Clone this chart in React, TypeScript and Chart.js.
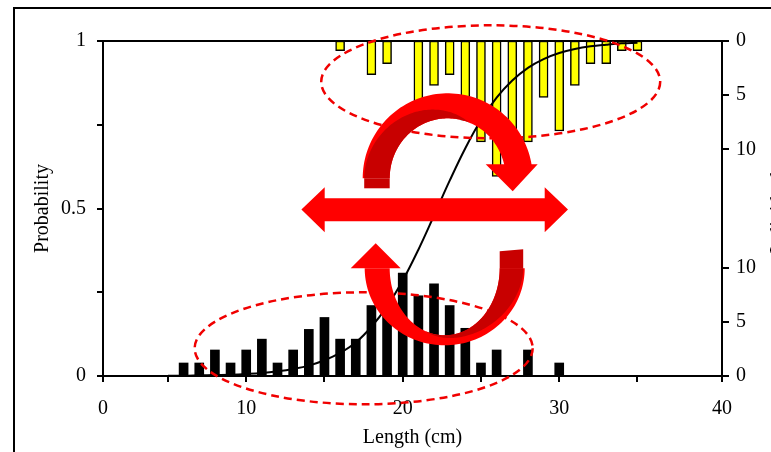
import React, { useEffect, useRef } from "react";
import { Chart, registerables } from "chart.js";

Chart.register(...registerables);

// ---------- data ----------
const blackLengths = [6, 7, 8, 9, 10, 11, 12, 13, 14, 15, 16, 17, 18, 19, 20, 21, 22, 23, 24, 25, 26, 28, 30];
const blackCounts = [1.2, 1.2, 2.4, 1.2, 2.4, 3.4, 1.2, 2.4, 4.3, 5.4, 3.4, 3.4, 6.5, 6.5, 9.5, 7.4, 8.5, 6.5, 4.4, 1.2, 2.4, 2.4, 1.2];

const yellowLengths = [16, 18, 19, 21, 22, 23, 24, 25, 26, 27, 28, 29, 30, 31, 32, 33, 34, 35];
const yellowCounts = [0.9, 3.1, 2.1, 6.0, 4.1, 3.1, 7.3, 9.3, 12.5, 10.0, 9.3, 5.2, 8.3, 4.1, 2.1, 2.1, 0.9, 0.9];

const curveLengths = [5, 6, 7, 8, 9, 10, 11, 12, 13, 14, 15, 16, 17, 18, 19, 20, 21, 22, 23, 24, 25, 26, 27, 28, 29, 30, 31, 32, 33, 34, 35];
const curveProbability = [0.001, 0.001, 0.002, 0.003, 0.004, 0.006, 0.009, 0.014, 0.021, 0.031, 0.047, 0.069, 0.1, 0.147, 0.208, 0.285, 0.377, 0.479, 0.583, 0.68, 0.764, 0.831, 0.882, 0.92, 0.946, 0.964, 0.976, 0.984, 0.989, 0.993, 0.995];

const lengthMin = 0.85;
const lengthMax = 40.4;
const lengthTickValues = [5, 10, 15, 20, 25, 30, 35];
const lengthLabelled = [10, 20, 30];
const lengthEndLabels = ["0", "40"];

const probTickValues = [0, 0.25, 0.5, 0.75, 1];
const probTickLabels = ["0", "", "0.5", "", "1"];

const countAxisMax = 30.9;
const countTickValues = [0, 5, 10];

const FONT = '"Liberation Serif", "Times New Roman", serif';

// ---------- decorations ----------
function drawDecor(chart: any) {
  const ctx = chart.ctx as CanvasRenderingContext2D;
  const ca = chart.chartArea;
  const sx = ca.width / 619;
  const sy = ca.height / 335;
  const M = (x: number, y: number): [number, number] => [ca.left + (x - 103.3) * sx, ca.top + (y - 40.7) * sy];

  ctx.save();
  // outer frame
  ctx.strokeStyle = "#000";
  ctx.lineWidth = 2;
  ctx.setLineDash([]);
  ctx.beginPath();
  ctx.moveTo(14, 470);
  ctx.lineTo(14, 8);
  ctx.lineTo(790, 8);
  ctx.stroke();

  // top axis line
  ctx.beginPath();
  ctx.moveTo(ca.left, ca.top);
  ctx.lineTo(ca.right, ca.top);
  ctx.stroke();

  // right axis title (cut by the picture edge)
  ctx.save();
  ctx.fillStyle = "#000";
  ctx.font = "20px " + FONT;
  ctx.textAlign = "center";
  ctx.textBaseline = "alphabetic";
  ctx.translate(784, (ca.top + ca.bottom) / 2);
  ctx.rotate(-Math.PI / 2);
  ctx.fillText("Individuals", 0, 0);
  ctx.restore();

  // dashed ellipses
  ctx.strokeStyle = "#f00000";
  ctx.lineWidth = 2.5;
  ctx.setLineDash([8, 5]);
  const ell = (cx: number, cy: number, rx: number, ry: number) => {
    const [x, y] = M(cx, cy);
    ctx.beginPath();
    ctx.ellipse(x, y, rx * sx, ry * sy, 0, 0, Math.PI * 2);
    ctx.stroke();
  };
  ell(491, 81.5, 169.5, 56.5);
  ell(364, 348, 169, 56);
  ctx.setLineDash([]);

  const poly = (pts: [number, number][], color: string) => {
    ctx.fillStyle = color;
    ctx.beginPath();
    pts.forEach((p, i) => {
      const [x, y] = M(p[0], p[1]);
      if (i === 0) ctx.moveTo(x, y);
      else ctx.lineTo(x, y);
    });
    ctx.closePath();
    ctx.fill();
  };
  const ribbon = (
    cx: number, cy: number, orx: number, ory: number, irx: number, iry: number,
    a0: number, a1: number, color: string, taper: boolean
  ) => {
    const N = 80;
    const pts: [number, number][] = [];
    for (let i = 0; i <= N; i++) {
      const f = i / N;
      const t = a0 + (a1 - a0) * f;
      let rx = orx, ry = ory;
      if (taper) {
        const g = Math.pow(f, 1.6);
        rx = orx + (irx - orx) * g;
        ry = ory + (iry - ory) * g;
      }
      pts.push([cx + rx * Math.cos(t), cy + ry * Math.sin(t)]);
    }
    for (let i = N; i >= 0; i--) {
      const t = a0 + (a1 - a0) * (i / N);
      pts.push([cx + irx * Math.cos(t), cy + iry * Math.sin(t)]);
    }
    poly(pts, color);
  };

  const RED = "#ff0000";
  const DARK = "#c80000";

  // top curved arrow (clockwise)
  ribbon(448, 178, 85, 85, 58, 60, Math.PI, Math.PI * 2 - 0.12, RED, false);
  poly([[364.5, 178], [390, 178], [390, 188], [364.5, 188]], DARK);
  ribbon(448, 178, 83.5, 83.5, 58, 60, Math.PI, Math.PI * 1.62, DARK, true);
  poly([[486, 164], [538, 164], [513, 191]], RED);

  // horizontal double arrow
  poly([
    [301.7, 209.3], [325, 187], [325, 198], [545, 198], [545, 187], [568.3, 209.3],
    [545, 232], [545, 221], [325, 221], [325, 232],
  ], RED);

  // bottom U arrow
  ribbon(445, 268, 80, 77, 55, 67, 0, Math.PI, RED, false);
  poly([[500, 251], [523.5, 249], [523.5, 268], [500, 268]], DARK);
  ribbon(445, 268, 78.5, 75.5, 55, 67, 0, Math.PI * 0.62, DARK, true);
  poly([[351, 268], [401, 268], [376, 243]], RED);

  ctx.restore();
}

export default function App() {
  const ref = useRef<HTMLCanvasElement | null>(null);

  useEffect(() => {
    if (!ref.current) return;
    const chart = new Chart(ref.current, {
      type: "bar",
      data: {
        datasets: [
          {
            type: "line",
            label: "Probability",
            yAxisID: "y",
            data: curveLengths.map((x, i) => ({ x, y: curveProbability[i] })),
            borderColor: "#000",
            borderWidth: 2,
            pointRadius: 0,
            tension: 0.4,
            fill: false,
          } as any,
          {
            type: "bar",
            label: "Yellow",
            yAxisID: "yR",
            data: yellowLengths.map((x, i) => ({ x, y: [countAxisMax - yellowCounts[i], countAxisMax] })),
            backgroundColor: "#ffff00",
            borderColor: "#000",
            borderWidth: 1.5,
            borderSkipped: false,
            barThickness: 9,
            grouped: false,
          } as any,
          {
            type: "bar",
            label: "Black",
            yAxisID: "yR",
            data: blackLengths.map((x, i) => ({ x, y: blackCounts[i] })),
            backgroundColor: "#000",
            borderWidth: 0,
            barThickness: 9,
            grouped: false,
          } as any,
        ],
      },
      options: {
        responsive: false,
        animation: false,
        layout: { padding: { top: 41, left: 0, right: 0, bottom: 0 } },
        plugins: { legend: { display: false }, tooltip: { enabled: false } },
        scales: {
          x: {
            type: "linear",
            min: lengthMin,
            max: lengthMax,
            offset: false,
            afterBuildTicks: (s: any) => {
              s.ticks = [lengthMin, ...lengthTickValues, lengthMax].map((v) => ({ value: v }));
            },
            afterFit: (s: any) => {
              s.height = 76;
            },
            ticks: {
              autoSkip: false,
              maxRotation: 0,
              padding: 15,
              color: "#000",
              font: { size: 20, family: FONT },
              callback: (v: any) => {
                if (Math.abs(v - lengthMin) < 1e-6) return lengthEndLabels[0];
                if (Math.abs(v - lengthMax) < 1e-6) return lengthEndLabels[1];
                return lengthLabelled.includes(v) ? String(v) : "";
              },
            },
            grid: { drawOnChartArea: false, tickLength: 6, color: "#000", lineWidth: 2, offset: false },
            border: { color: "#000", width: 2 },
            title: { display: true, text: "Length (cm)", color: "#000", font: { size: 20, family: FONT }, padding: { top: 0, bottom: 2 } },
          },
          y: {
            type: "linear",
            position: "left",
            min: 0,
            max: 1,
            afterBuildTicks: (s: any) => {
              s.ticks = probTickValues.map((v) => ({ value: v }));
            },
            afterFit: (s: any) => {
              s.width = 103;
            },
            ticks: {
              padding: 11,
              color: "#000",
              font: { size: 20, family: FONT },
              callback: (v: any) => {
                const i = probTickValues.indexOf(v);
                return i >= 0 ? probTickLabels[i] : "";
              },
            },
            grid: { drawOnChartArea: false, tickLength: 6, color: "#000", lineWidth: 2 },
            border: { color: "#000", width: 2 },
            title: { display: true, text: "Probability", color: "#000", font: { size: 20, family: FONT }, padding: { top: 31, bottom: 0 } },
          },
          yR: {
            type: "linear",
            position: "right",
            min: 0,
            max: countAxisMax,
            afterBuildTicks: (s: any) => {
              const vals = [...countTickValues, ...countTickValues.map((v) => countAxisMax - v)];
              s.ticks = vals.sort((a, b) => a - b).map((v) => ({ value: v }));
            },
            afterFit: (s: any) => {
              s.width = 49;
            },
            ticks: {
              padding: 7,
              color: "#000",
              font: { size: 20, family: FONT },
              callback: (v: any) => {
                const n = v > countAxisMax / 2 ? countAxisMax - v : v;
                return String(Math.round(n));
              },
            },
            grid: { drawOnChartArea: false, tickLength: 7, color: "#000", lineWidth: 2 },
            border: { color: "#000", width: 2 },
          },
        },
      } as any,
      plugins: [{ id: "decor", afterDraw: drawDecor }],
    });
    return () => chart.destroy();
  }, []);

  return (
    <div style={{ position: "fixed", left: 0, top: 0, width: 771, height: 452, background: "#fff" }}>
      <canvas ref={ref} width={771} height={452} style={{ display: "block", width: 771, height: 452 }} />
    </div>
  );
}
